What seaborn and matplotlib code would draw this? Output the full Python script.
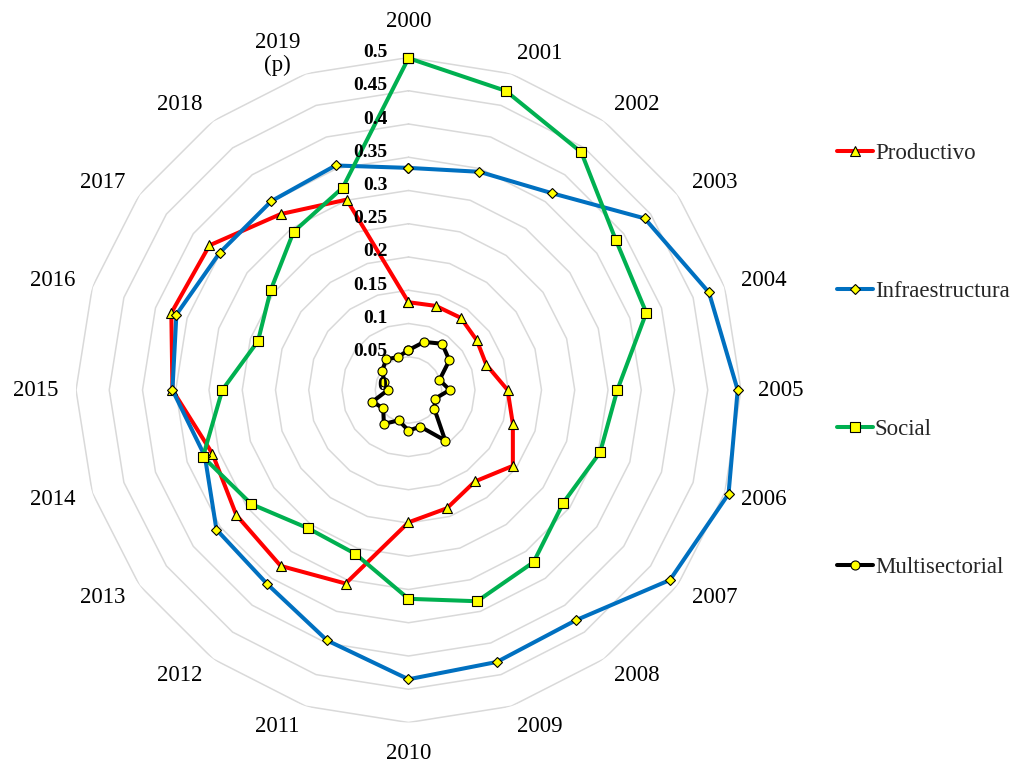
import numpy as np
import pandas as pd
import matplotlib.pyplot as plt
import matplotlib.transforms as mtransforms
import seaborn as sns

# Categories (years) and series values
years = ['2000', '2001', '2002', '2003', '2004', '2005', '2006', '2007', '2008', '2009',
         '2010', '2011', '2012', '2013', '2014', '2015', '2016', '2017', '2018', '2019\n(p)']

productivo = [0.132, 0.133, 0.134, 0.127, 0.123, 0.149, 0.165, 0.194, 0.170, 0.187,
              0.199, 0.306, 0.327, 0.320, 0.310, 0.355, 0.375, 0.370, 0.327, 0.301]
infraestructura = [0.334, 0.345, 0.366, 0.439, 0.475, 0.495, 0.506, 0.486, 0.428, 0.430,
                   0.435, 0.396, 0.361, 0.357, 0.322, 0.355, 0.367, 0.351, 0.351, 0.355]
social = [0.499, 0.473, 0.442, 0.385, 0.376, 0.314, 0.303, 0.288, 0.320, 0.334,
          0.314, 0.259, 0.257, 0.292, 0.325, 0.280, 0.238, 0.256, 0.294, 0.320]
multisectorial = [0.060, 0.076, 0.086, 0.076, 0.049, 0.062, 0.042, 0.048, 0.094, 0.058,
                  0.061, 0.048, 0.063, 0.047, 0.057, 0.031, 0.038, 0.049, 0.057, 0.052]

series_names = ['Productivo', 'Infraestructura', 'Social', 'Multisectorial']
series_values = [productivo, infraestructura, social, multisectorial]
series_colors = ['#FF0000', '#0070C0', '#00B050', '#000000']
series_markers = ['^', 'D', 's', 'o']
series_msize = [7.5, 5.0, 6.5, 6.5]

r_ticks = [0, 0.05, 0.1, 0.15, 0.2, 0.25, 0.3, 0.35, 0.4, 0.45, 0.5]
r_labels = ['0', '0.05', '0.1', '0.15', '0.2', '0.25', '0.3', '0.35', '0.4', '0.45', '0.5']

sns.set_theme(style='white')
plt.rcParams['font.family'] = ['Liberation Serif', 'DejaVu Serif']

fig = plt.figure(figsize=(10.12, 7.64), dpi=100)
ax = fig.add_axes([76 / 1012, 41.5 / 764, 665 / 1012, 665 / 764], projection='polar')
ax.set_theta_zero_location('N')
ax.set_theta_direction(-1)

n = len(years)
theta = np.linspace(0, 2 * np.pi, n, endpoint=False)
theta_closed = np.append(theta, 2 * np.pi)

# polygon gridlines like Excel radar
for lv in r_ticks[1:]:
    ax.plot(theta_closed, [lv] * (n + 1), color='#d9d9d9', lw=1.1, zorder=0)

# series
for name, vals, col, mk, ms in zip(series_names, series_values, series_colors,
                                   series_markers, series_msize):
    df = pd.DataFrame({'theta': theta_closed, 'value': vals + [vals[0]]})
    sns.lineplot(data=df, x='theta', y='value', ax=ax, sort=False, estimator=None,
                 color=col, lw=2.9, marker=mk, markersize=ms,
                 markerfacecolor='#FFFF00', markeredgecolor='black',
                 markeredgewidth=0.8, clip_on=False, label=name)

ax.set_ylim(0, 0.5)
ax.grid(False)
ax.spines['polar'].set_visible(False)
ax.set_xticks([])
ax.set_yticks([])
ax.set_xlabel('')
ax.set_ylabel('')
ax.get_legend().remove()

# radial tick labels to the left of the 2000 axis
off = mtransforms.offset_copy(ax.transData, fig=fig, x=-21, y=5, units='dots')
for v, lab in zip(r_ticks, r_labels):
    ax.text(0, v, lab, transform=off, ha='right', va='center',
            fontsize=14, fontweight='bold', color='black')

# category labels, pushed out from the outer ring vertex the way Excel does
for t, lab in zip(theta, years):
    s, c = np.sin(t), np.cos(t)
    if abs(s) < 0.01:
        dx, dy = 0, (36 if c > 0 else -31)
    else:
        dx = np.sign(s) * (23 + 17 * abs(s))
        dy = 21 * c
    ax.annotate(lab, xy=(t, 0.5), xytext=(dx, dy), textcoords='offset pixels',
                ha='center', va='center', fontsize=16.5, color='black',
                linespacing=1.1, annotation_clip=False)

handles, labels = ax.get_legend_handles_labels()
fig.legend(handles, labels, loc='upper left', bbox_to_anchor=(837 / 1012, 1 - 143 / 764),
           frameon=False, fontsize=16.5, borderpad=0, borderaxespad=0,
           handlelength=1.55, handletextpad=0.1, labelspacing=5.11, numpoints=1)

fig.savefig('out.png', dpi=100)
